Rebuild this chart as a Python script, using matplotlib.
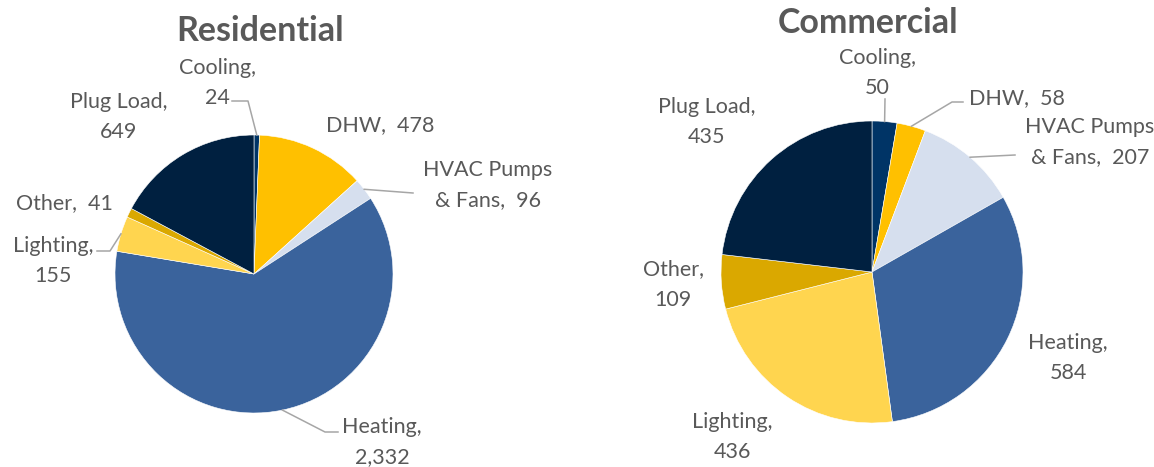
import numpy as np
import matplotlib
matplotlib.use("Agg")
import matplotlib.pyplot as plt

# data
categories = ["Cooling", "DHW", "HVAC Pumps\n& Fans", "Heating", "Lighting", "Other", "Plug Load"]
residential = [24, 478, 96, 2332, 155, 41, 649]
commercial = [50, 58, 207, 584, 436, 109, 435]
colors = ["#003466", "#FFC000", "#D6DFEE", "#3A639C", "#FFD54F", "#DAA800", "#002040"]

W, H = 1154, 467
plt.rcParams["font.family"] = ["Lato", "DejaVu Sans"]
txt_col = "#595959"
line_col = "#A6A6A6"


def fmt_label(name, v, wrap):
    val = f"{v:,}"
    if wrap:
        return f"{name},\n{val}"
    return f"{name},  {val}"


def draw_pie(ax, vals, cx, cy, r, title, title_xy, label_pos, wrap, leaders):
    # cx, cy in pixels, y measured from top
    wedges, _ = ax.pie(vals, colors=colors, startangle=90, counterclock=False,
                       center=(cx, H - cy), radius=r,
                       wedgeprops=dict(edgecolor="white", linewidth=0.4))
    for i, w in enumerate(wedges):
        tx, ty = label_pos[i]
        name = categories[i]
        if "\n" in name:
            s = name.replace("\n& Fans", "") + "\n& Fans,  " + f"{vals[i]:,}"
        else:
            s = fmt_label(name, vals[i], wrap[i])
        ax.text(tx, H - ty, s, ha="center", va="center", fontsize=15.5,
                color=txt_col, linespacing=1.68)
        if i in leaders:
            ang = np.deg2rad((w.theta1 + w.theta2) / 2)
            ex = cx + r * np.cos(ang)
            ey = (H - cy) + r * np.sin(ang)
            pts = leaders[i]
            xs = [ex] + [p[0] for p in pts]
            ys = [ey] + [H - p[1] for p in pts]
            ax.plot(xs, ys, color=line_col, lw=1.1)
    ax.text(title_xy[0], H - title_xy[1], title, ha="center", va="center",
            fontsize=24.5, fontweight="bold", color=txt_col)


fig = plt.figure(figsize=(W / 100, H / 100), dpi=100)
ax = fig.add_axes([0, 0, 1, 1])

res_pos = [(217, 83), (380, 125), (488, 185), (382, 442), (53, 261), (64, 203), (119, 117)]
res_wrap = [True, False, True, True, True, False, True]
res_leaders = {0: [(248, 101), (232, 101)],
               2: [(413, 193)],
               3: [(325, 432), (338, 432)],
               4: [(110, 251), (97, 251)]}
draw_pie(ax, residential, 254, 274, 139, "Residential", (260, 31),
         res_pos, res_wrap, res_leaders)

com_pos = [(877, 73), (1017, 98), (1090, 142), (1068, 358), (732, 437), (673, 285), (707, 122)]
com_wrap = [True, False, True, True, True, True, True]
com_leaders = {0: [(885, 99)],
               1: [(952, 102), (963, 102)],
               2: [(1015, 155)]}
draw_pie(ax, commercial, 872, 272, 151, "Commercial", (868, 23),
         com_pos, com_wrap, com_leaders)

ax.set_xlim(0, W)
ax.set_ylim(0, H)
ax.set_aspect("equal")
ax.axis("off")
fig.savefig("out.png", dpi=100, facecolor="white")
